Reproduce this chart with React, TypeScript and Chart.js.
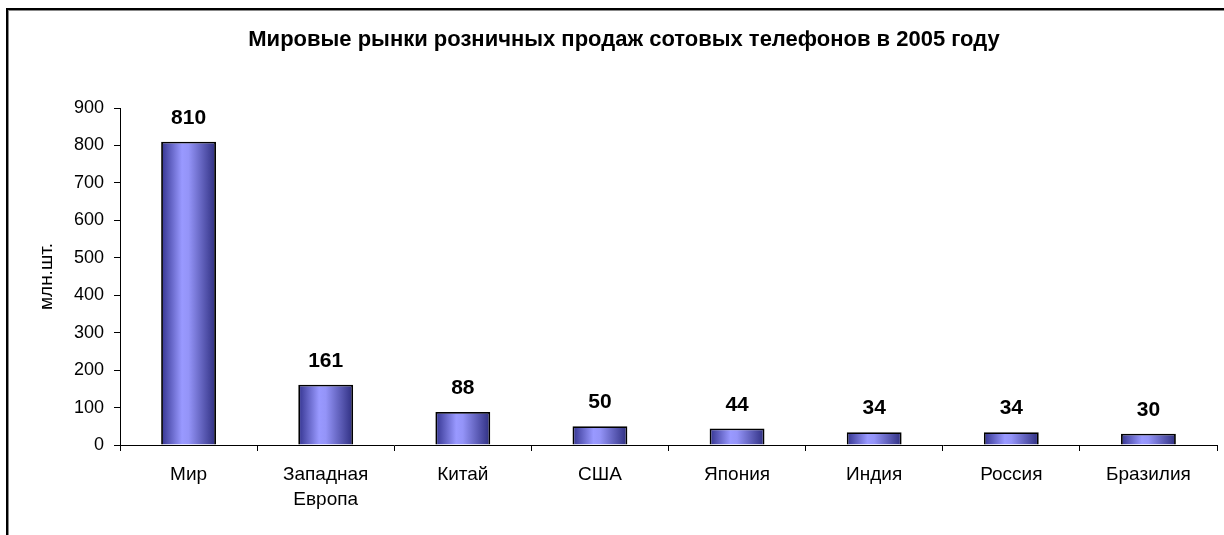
import React, { useEffect, useRef } from "react";
import { Chart, registerables } from "chart.js";

Chart.register(...registerables);

const TITLE = "Мировые рынки розничных продаж сотовых телефонов в 2005 году";
const Y_TITLE = "млн.шт.";
const CATEGORIES: (string | string[])[] = [
  "Мир",
  ["Западная", "Европа"],
  "Китай",
  "США",
  "Япония",
  "Индия",
  "Россия",
  "Бразилия",
];
const VALUES = [810, 161, 88, 50, 44, 34, 34, 30];
const Y_MIN = 0;
const Y_MAX = 900;
const Y_STEP = 100;

const FONT = "'Liberation Sans', Arial, sans-serif";
const BAR_PCT = 0.4;

const dataLabels = {
  id: "dataLabels",
  afterDatasetsDraw(chart: any) {
    const ctx = chart.ctx;
    ctx.save();
    ctx.font = `bold 21px ${FONT}`;
    ctx.fillStyle = "#000";
    ctx.textAlign = "center";
    ctx.textBaseline = "alphabetic";
    chart.data.datasets.forEach((ds: any, i: number) => {
      const meta = chart.getDatasetMeta(i);
      meta.data.forEach((el: any, j: number) => {
        ctx.fillText(String(ds.data[j]), el.x, el.y - 18);
      });
    });
    ctx.restore();
  },
};

export default function App() {
  const ref = useRef<HTMLCanvasElement>(null);
  useEffect(() => {
    if (!ref.current) return;
    const chart = new Chart(ref.current, {
      type: "bar",
      data: {
        labels: CATEGORIES,
        datasets: [
          {
            data: VALUES,
            borderColor: "#000",
            borderWidth: 1.8,
            categoryPercentage: 1,
            barPercentage: BAR_PCT,
            backgroundColor: (c: any) => {
              const ch = c.chart;
              const xs = ch.scales?.x;
              if (!ch.chartArea || !xs || c.dataIndex == null) return "#9999ff";
              const cx = xs.getPixelForValue(c.dataIndex);
              const w = (xs.width / CATEGORIES.length) * BAR_PCT;
              const g = ch.ctx.createLinearGradient(cx - w / 2, 0, cx + w / 2, 0);
              g.addColorStop(0, "#33338f");
              g.addColorStop(0.38, "#9999ff");
              g.addColorStop(0.5, "#9494f8");
              g.addColorStop(1, "#2e2e80");
              return g;
            },
          },
        ],
      },
      options: {
        animation: false,
        responsive: false,
        maintainAspectRatio: false,
        layout: { padding: { left: 31, right: 7, top: 0, bottom: 0 } },
        plugins: {
          legend: { display: false },
          tooltip: { enabled: false },
          title: {
            display: true,
            text: TITLE,
            color: "#000",
            font: { family: FONT, size: 22, weight: "bold", lineHeight: 1.2 },
            padding: { top: 26.3, bottom: 55.3 },
          },
        },
        scales: {
          x: {
            afterFit: (s: any) => {
              s.height = 90;
            },
            grid: {
              offset: true,
              drawOnChartArea: false,
              drawTicks: true,
              tickLength: 6,
              color: "#000",
            },
            border: { display: true, color: "#000", width: 1 },
            ticks: {
              color: "#000",
              font: { family: FONT, size: 19, lineHeight: 1.32 },
              padding: 11,
              maxRotation: 0,
              autoSkip: false,
            },
          },
          y: {
            min: Y_MIN,
            max: Y_MAX,
            afterFit: (s: any) => {
              s.width = 89;
            },
            grid: {
              drawOnChartArea: false,
              drawTicks: true,
              tickLength: 6,
              color: "#000",
            },
            border: { display: true, color: "#000", width: 1 },
            ticks: {
              stepSize: Y_STEP,
              color: "#000",
              font: { family: FONT, size: 18 },
              padding: 10,
            },
            title: {
              display: true,
              text: Y_TITLE,
              color: "#000",
              font: { family: FONT, size: 19, lineHeight: 1.2 },
              padding: { top: 4.6, bottom: 0 },
            },
          },
        },
      },
      plugins: [dataLabels],
    });
    return () => chart.destroy();
  }, []);

  return (
    <div
      style={{
        position: "fixed",
        left: 0,
        top: 0,
        width: 1224,
        height: 535,
        overflow: "hidden",
        background: "#fff",
      }}
    >
      <div
        style={{
          position: "absolute",
          left: 6,
          top: 8,
          width: 1400,
          height: 800,
          borderLeft: "2px solid #000",
          borderTop: "2px solid #000",
          boxShadow: "inset 1px 1px 0 #888",
        }}
      />
      <canvas
        ref={ref}
        width={1224}
        height={535}
        style={{ position: "absolute", left: 0, top: 0, width: 1224, height: 535 }}
      />
    </div>
  );
}
